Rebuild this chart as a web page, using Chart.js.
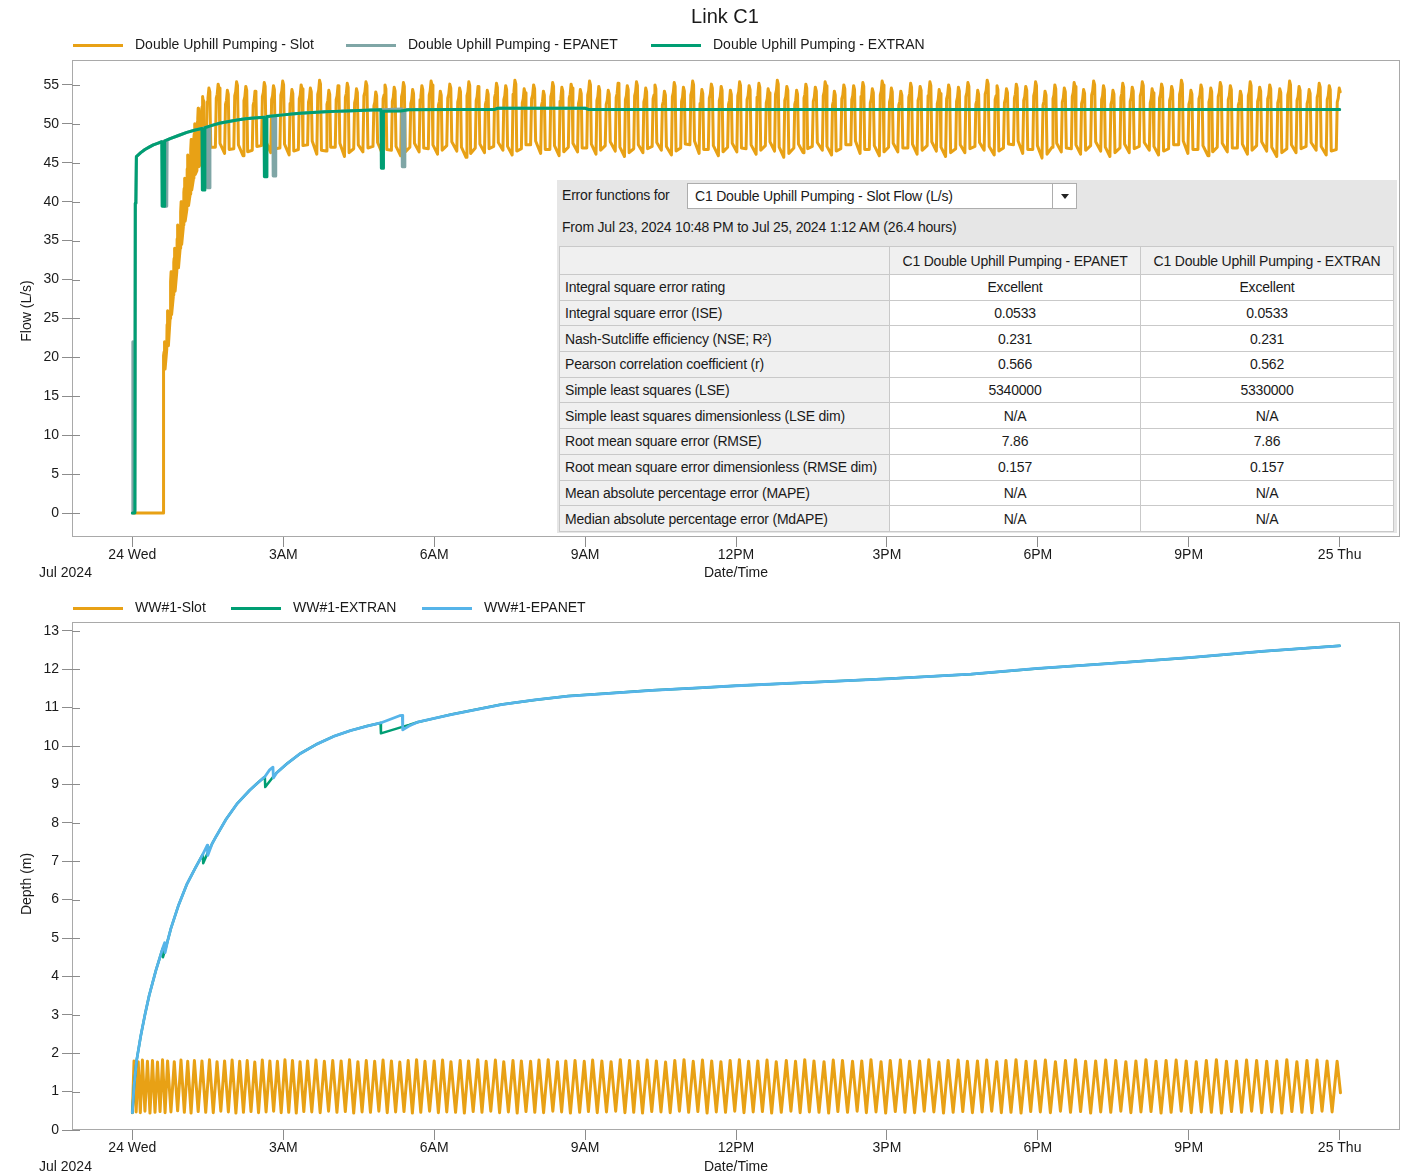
<!DOCTYPE html>
<html>
<head>
<meta charset="utf-8">
<title>Link C1</title>
<script src="https://cdn.jsdelivr.net/npm/chart.js@4.4.1/dist/chart.umd.min.js"></script>
<style>
  html, body { margin: 0; padding: 0; background: #fff; }
  body { width: 1402px; height: 1175px; position: relative; overflow: hidden;
         font-family: "Liberation Sans", Arial, sans-serif; }
  canvas { position: absolute; left: 0; }
  #flowCanvas { top: 0; }
  #depthCanvas { top: 590px; }
  #errPanel { position: absolute; left: 557px; top: 180px; width: 840px; height: 353px;
              background: #e6e6e6; font-size: 14px; letter-spacing: -0.2px; color: #1a1a1a; }
  #errPanel .lbl { position: absolute; line-height: 18px; white-space: nowrap; }
  #combo { position: absolute; left: 130px; top: 3px; width: 388px; height: 24px;
           background: #fff; border: 1px solid #adadad; }
  #combo span { position: absolute; left: 7px; top: 0; line-height: 24px; white-space: nowrap; }
  #comboBtn { position: absolute; right: 0; top: 0; width: 23px; height: 24px; border-left: 1px solid #adadad; }
  #comboBtn i { position: absolute; left: 8px; top: 10px; width: 0; height: 0;
                border-left: 4px solid transparent; border-right: 4px solid transparent; border-top: 5px solid #222; }
  #errTable { position: absolute; left: 2px; top: 66px; border-collapse: collapse; table-layout: fixed; width: 834px; }
  #errTable td { border: 1px solid #c9c9c9; padding: 0; height: 24.7px; text-align: center; white-space: nowrap;
                 background: #fff; }
  #errTable tr.head td { height: 27px; background: #f0f0f0; }
  #errTable td.name { text-align: left; padding-left: 5px; background: #f0f0f0; }
</style>
</head>
<body>
<canvas id="flowCanvas" width="1402" height="590"></canvas>
<canvas id="depthCanvas" width="1402" height="585"></canvas>

<div id="errPanel">
  <div class="lbl" style="left:5px;top:6px">Error functions for</div>
  <div id="combo"><span>C1 Double Uphill Pumping - Slot Flow (L/s)</span><div id="comboBtn"><i></i></div></div>
  <div class="lbl" style="left:5px;top:38px">From Jul 23, 2024 10:48 PM to Jul 25, 2024 1:12 AM (26.4 hours)</div>
  <table id="errTable">
    <colgroup><col style="width:330px"><col style="width:251px"><col style="width:253px"></colgroup>
    <tbody id="errBody"></tbody>
  </table>
</div>

<script>
// ---------- time axis (minutes from 24 Jul 00:00) ----------
const xTickMinutes = [0, 180, 360, 540, 720, 900, 1080, 1260, 1440];
const xTickLabels = ['24 Wed', '3AM', '6AM', '9AM', '12PM', '3PM', '6PM', '9PM', '25 Thu'];
const flowTicks = [0, 5, 10, 15, 20, 25, 30, 35, 40, 45, 50, 55];
const depthTicks = [0, 1, 2, 3, 4, 5, 6, 7, 8, 9, 10, 11, 12, 13];

// ---------- link C1 flow (L/s) ----------
// EXTRAN flow, [minute, L/s]
const extranFlow = [
  [0,0],[3,0],[3.5,39.8],[4.2,40],[4.8,45.8],[10,46.3],[15,46.7],[20,47.0],[25,47.3],[30,47.5],[35,47.7],
  [35.5,39.4],[38,39.4],[38.5,47.8],[45,48.1],[55,48.5],[65,48.9],[75,49.2],[83,49.4],
  [83.5,41.5],[86,41.5],[86.5,49.5],[95,49.8],[105,50.1],[115,50.3],[125,50.5],[135,50.65],[145,50.75],[157,50.85],
  [157.5,43.2],[160,43.2],[160.5,50.95],[170,51.05],[180,51.15],[190,51.25],[200,51.35],[210,51.42],[220,51.48],
  [230,51.54],[241,51.6],[255,51.66],[270,51.72],[285,51.77],[296.5,51.8],
  [297,44.3],[299,44.3],[299.5,51.6],[320,51.65],[330,51.8],[380,51.85],[432,51.85],[436,52.0],[540,52.0],
  [544,51.85],[1440,51.85]
];
// EPANET flow, [minute, L/s]
const epanetFlow = [
  [0,0],[0.6,22],[1.2,0.3],[3,0.3],[3.5,39.8],[4.2,40],[4.8,45.8],[10,46.3],[15,46.7],[20,47.0],[25,47.3],[30,47.5],
  [35,47.7],[38,47.75],[38.5,39.4],[41,39.4],[41.5,47.9],[45,48.1],[55,48.5],[65,48.9],[75,49.2],[83,49.4],
  [89,49.6],[89.5,41.8],[92,41.8],[92.5,49.7],[95,49.8],[105,50.1],[115,50.3],[125,50.5],[135,50.65],[145,50.75],
  [157,50.85],[167.5,51.0],[168,43.3],[170.5,43.3],[171,51.07],[180,51.15],[190,51.25],[200,51.35],[210,51.42],
  [220,51.48],[230,51.54],[241,51.6],[255,51.66],[270,51.72],[285,51.77],[296.5,51.8],[321.5,51.9],
  [322,44.5],[324.5,44.5],[325,51.85],[380,51.85],[432,51.85],[436,52.0],[540,52.0],[544,51.85],[1440,51.85]
];
// Slot flow: pump cycles (start minute, trough and crest in L/s)
const slotFlowStart = [
  37, 41, 45, 49, 53, 57, 61, 65, 69, 73, 77, 82,
  88, 99, 110, 121, 132, 143, 154, 165, 176, 187,
  198, 209, 220, 231, 242, 253, 264, 275, 287, 298,
  309, 320, 331, 342, 353, 364, 375, 387, 398, 409,
  420, 431, 442, 453, 464, 475, 487, 498, 509, 520,
  531, 542, 553, 564, 576, 587, 598, 609, 620, 631,
  643, 654, 665, 676, 687, 699, 710, 721, 732, 744,
  755, 766, 777, 789, 800, 811, 823, 834, 845, 857,
  868, 879, 891, 902, 913, 925, 936, 948, 959, 970,
  982, 993, 1005, 1016, 1028, 1039, 1051, 1062, 1074, 1085,
  1097, 1108, 1120, 1131, 1143, 1155, 1166, 1178, 1189, 1201,
  1213, 1224, 1236, 1248, 1259, 1271, 1283, 1294, 1306, 1318,
  1330, 1341, 1353, 1365, 1377, 1388, 1400, 1412, 1424, 1436
];
const slotFlowLow = [
  18, 21, 25, 28, 31, 34, 37, 39, 41, 43, 44, 45,
  46.5, 47.0, 46.2, 46.8, 45.9, 46.6, 47.2, 46.3, 46.9, 46.0,
  46.7, 47.3, 46.1, 46.5, 47.0, 45.8, 46.8, 46.4, 47.1, 46.2,
  46.6, 45.9, 47.0, 46.4, 46.8, 46.1, 47.2, 46.5, 45.7, 46.9,
  46.3, 47.1, 46.6, 46.0, 46.8, 47.3, 46.2, 46.7, 45.9, 47.0,
  46.4, 46.9, 46.1, 47.2, 46.5, 45.8, 46.8, 46.3, 47.1, 46.6,
  46.0, 46.9, 47.3, 46.2, 46.7, 45.9, 47.0, 46.4, 46.8, 46.1,
  47.2, 46.5, 45.7, 46.9, 46.3, 47.1, 46.6, 46.0, 46.8, 47.3,
  46.2, 46.7, 45.9, 47.0, 46.4, 46.9, 46.1, 47.2, 46.5, 45.8,
  46.8, 46.3, 47.1, 46.6, 46.0, 46.9, 47.3, 46.2, 46.7, 45.6,
  47.0, 46.4, 46.8, 46.1, 47.2, 46.5, 45.8, 46.9, 46.3, 47.1,
  46.6, 46.0, 46.8, 47.3, 46.2, 46.7, 45.9, 47.0, 46.4, 46.9,
  46.1, 47.2, 46.5, 45.8, 46.8, 46.3, 47.1, 46.6, 46.0, 46.7
];
const slotFlowHigh = [
  22, 26, 31, 34, 37, 40, 43, 46, 48, 50, 52, 53.5,
  54.6, 55.1, 54.3, 55.4, 54.8, 54.2, 55.3, 54.9, 55.5, 54.4,
  55.0, 54.6, 55.6, 54.3, 54.9, 55.2, 54.5, 55.4, 54.1, 55.0,
  54.7, 55.3, 54.4, 54.9, 55.5, 54.2, 55.1, 54.6, 55.4, 54.8,
  54.3, 55.2, 54.9, 55.6, 54.5, 55.0, 54.2, 55.3, 54.7, 55.1,
  54.4, 55.5, 54.8, 54.3, 55.2, 54.9, 55.4, 54.6, 55.0, 54.2,
  55.3, 54.7, 55.5, 54.4, 55.1, 54.8, 54.3, 55.4, 54.9, 55.2,
  54.5, 55.6, 54.8, 54.3, 55.1, 54.7, 55.4, 54.2, 55.0, 54.9,
  55.3, 54.5, 55.5, 54.6, 54.2, 55.2, 54.8, 55.4, 54.4, 55.0,
  54.7, 55.3, 54.3, 55.6, 54.9, 54.5, 55.1, 54.8, 55.4, 54.2,
  55.0, 54.6, 55.3, 54.4, 55.5, 54.9, 54.3, 55.2, 54.7, 55.4,
  54.5, 55.1, 54.8, 55.6, 54.3, 55.0, 54.6, 55.3, 54.9, 54.2,
  55.4, 54.7, 55.0, 54.5, 55.5, 54.8, 54.4, 55.2, 54.9, 54.6
];
const slotFlowIdle = [[2, 0], [36.9, 0]];
const slotFlowEndMin = 1441;

// ---------- WW#1 depth (m) ----------
const extranDepth = [
  [0,0.45],[2,1.15],[5,1.8],[10,2.45],[15,3.0],[20,3.5],[28,4.15],[36,4.72],[36.5,4.5],[39,4.68],[42,4.92],
  [46,5.25],[55,5.85],[65,6.4],[75,6.82],[84,7.18],[84.5,6.95],[89.5,7.2],[95,7.45],[100,7.65],[112,8.1],
  [125,8.5],[140,8.85],[150,9.05],[158,9.2],[158.5,8.93],[168,9.2],[172,9.3],[185,9.55],[200,9.8],[220,10.05],
  [240,10.25],[260,10.4],[280,10.52],[296,10.6],[296.5,10.33],[322,10.5],[330,10.55],[340,10.62],[360,10.72],
  [380,10.82],[410,10.95],[440,11.08],[480,11.2],[520,11.3],[560,11.36],[620,11.45],[680,11.52],[720,11.57],
  [800,11.65],[900,11.75],[1000,11.87],[1080,12.02],[1160,12.14],[1260,12.3],[1350,12.47],[1440,12.61]
];
const epanetDepth = [
  [0,0.45],[2,1.15],[5,1.8],[10,2.45],[15,3.0],[20,3.5],[28,4.15],[36,4.72],[38.5,4.88],[39,4.62],[42,4.92],
  [46,5.25],[55,5.85],[65,6.4],[75,6.82],[84,7.18],[89.4,7.42],[89.9,7.15],[95,7.45],[100,7.65],[112,8.1],
  [125,8.5],[140,8.85],[150,9.05],[158,9.2],[163.7,9.38],[167.7,9.45],[168.2,9.17],[172,9.3],[185,9.55],
  [200,9.8],[220,10.05],[240,10.25],[260,10.4],[280,10.52],[296,10.6],[318.7,10.79],[322,10.8],[322.5,10.42],
  [330,10.52],[340,10.62],[360,10.72],[380,10.82],[410,10.95],[440,11.08],[480,11.2],[520,11.3],[560,11.36],
  [620,11.45],[680,11.52],[720,11.57],[800,11.65],[900,11.75],[1000,11.87],[1080,12.02],[1160,12.14],
  [1260,12.3],[1350,12.47],[1440,12.61]
];
// Slot depth: crest minutes, crest and following trough (m)
const slotDepthPeakT = [
  2, 7, 12, 18, 24, 30, 36, 42,
  50, 58, 66, 74, 83, 92, 101, 110, 119, 128, 137, 146, 155, 164, 173, 182, 191, 200, 209, 219, 229, 239,
  249, 259, 269, 279, 289, 299,
  309, 319, 329, 339, 349, 360, 370, 380, 391, 401, 412, 422, 433, 443, 454, 464, 475, 485, 496, 507,
  517, 528, 539, 549, 560, 571, 582, 593, 603, 614, 625, 636, 647, 658, 669, 680, 691, 702, 713, 724,
  735, 746, 757, 768, 780, 791, 802, 813, 825, 836, 847, 859, 870, 881, 893, 904, 916, 927, 939, 950,
  962, 973, 985, 996, 1008, 1019, 1031, 1042, 1054, 1066, 1077, 1089,
  1101, 1113, 1125, 1137, 1149, 1161, 1173, 1185, 1197, 1209, 1221, 1233, 1245, 1257, 1269, 1281,
  1293, 1305, 1317, 1329, 1341, 1353, 1365, 1377, 1389, 1401, 1413, 1425, 1437
];
const slotDepthHigh = [
  1.80, 1.78, 1.82, 1.79, 1.81, 1.77, 1.83, 1.80, 1.78, 1.82,
  1.79, 1.81, 1.80, 1.83, 1.78, 1.80, 1.82, 1.79, 1.81, 1.77,
  1.82, 1.80, 1.79, 1.83, 1.81, 1.78, 1.80, 1.82, 1.79, 1.81,
  1.80, 1.83, 1.78, 1.81, 1.79, 1.82, 1.80, 1.77, 1.81, 1.83,
  1.79, 1.80, 1.82, 1.78, 1.81, 1.80, 1.83, 1.79, 1.82, 1.78,
  1.81, 1.80, 1.79, 1.82, 1.83, 1.78, 1.80, 1.81, 1.79, 1.82,
  1.80, 1.78, 1.83, 1.81, 1.79, 1.82, 1.80, 1.77, 1.81, 1.83,
  1.79, 1.82, 1.80, 1.78, 1.81, 1.83, 1.79, 1.80, 1.82, 1.78,
  1.81, 1.79, 1.83, 1.80, 1.78, 1.82, 1.81, 1.79, 1.80, 1.83,
  1.78, 1.81, 1.82, 1.79, 1.80, 1.83, 1.77, 1.81, 1.82, 1.79,
  1.80, 1.82, 1.78, 1.81, 1.83, 1.79, 1.80, 1.82, 1.78, 1.81,
  1.83, 1.79, 1.80, 1.82, 1.81, 1.78, 1.80, 1.83, 1.79, 1.81,
  1.82, 1.80, 1.78, 1.81, 1.83, 1.79, 1.80, 1.82, 1.81, 1.79,
  1.80, 1.83, 1.78, 1.81, 1.82, 1.80, 1.79
];
const slotDepthLow = [
  0.47, 0.45, 0.49, 0.44, 0.46, 0.48, 0.45, 0.47, 0.50, 0.46,
  0.44, 0.48, 0.46, 0.45, 0.49, 0.47, 0.44, 0.46, 0.48, 0.45,
  0.47, 0.49, 0.45, 0.46, 0.44, 0.48, 0.47, 0.45, 0.49, 0.46,
  0.48, 0.44, 0.47, 0.46, 0.49, 0.45, 0.47, 0.48, 0.44, 0.46,
  0.49, 0.45, 0.47, 0.46, 0.44, 0.48, 0.46, 0.49, 0.45, 0.47,
  0.44, 0.48, 0.46, 0.45, 0.49, 0.47, 0.44, 0.46, 0.48, 0.45,
  0.47, 0.49, 0.45, 0.46, 0.44, 0.48, 0.47, 0.45, 0.49, 0.46,
  0.48, 0.44, 0.47, 0.46, 0.49, 0.45, 0.47, 0.48, 0.44, 0.46,
  0.49, 0.45, 0.47, 0.46, 0.44, 0.48, 0.46, 0.49, 0.45, 0.47,
  0.44, 0.48, 0.46, 0.45, 0.49, 0.47, 0.44, 0.46, 0.48, 0.45,
  0.47, 0.49, 0.45, 0.46, 0.44, 0.48, 0.47, 0.45, 0.49, 0.46,
  0.48, 0.44, 0.47, 0.46, 0.49, 0.45, 0.47, 0.48, 0.44, 0.46,
  0.49, 0.45, 0.47, 0.46, 0.44, 0.48, 0.46, 0.49, 0.45, 0.47,
  0.44, 0.48, 0.46, 0.45, 0.49, 0.47
];
const slotDepthStart = [0, 0.45];
const slotDepthEnd = [1441, 0.97];

// ---------- error function table ----------
const errorMetrics = [
  'Integral square error rating', 'Integral square error (ISE)', 'Nash-Sutcliffe efficiency (NSE; R²)',
  'Pearson correlation coefficient (r)', 'Simple least squares (LSE)', 'Simple least squares dimensionless (LSE dim)',
  'Root mean square error (RMSE)', 'Root mean square error dimensionless (RMSE dim)',
  'Mean absolute percentage error (MAPE)', 'Median absolute percentage error (MdAPE)'
];
const epanetScores = ['Excellent', '0.0533', '0.231', '0.566', '5340000', 'N/A', '7.86', '0.157', 'N/A', 'N/A'];
const extranScores = ['Excellent', '0.0533', '0.231', '0.562', '5330000', 'N/A', '7.86', '0.157', 'N/A', 'N/A'];
const compareHeads = ['', 'C1 Double Uphill Pumping - EPANET', 'C1 Double Uphill Pumping - EXTRAN'];

(function buildTable() {
  const body = document.getElementById('errBody');
  const head = document.createElement('tr');
  head.className = 'head';
  compareHeads.forEach((h, i) => {
    const td = document.createElement('td');
    td.textContent = h;
    if (i === 0) td.className = 'name';
    head.appendChild(td);
  });
  body.appendChild(head);
  errorMetrics.forEach((m, i) => {
    const tr = document.createElement('tr');
    [m, epanetScores[i], extranScores[i]].forEach((v, j) => {
      const td = document.createElement('td');
      td.textContent = v;
      if (j === 0) td.className = 'name';
      tr.appendChild(td);
    });
    body.appendChild(tr);
  });
})();

// ---------- series assembly ----------
const pairsToXY = arr => arr.map(([x, y]) => ({ x, y }));

function slotFlowPoints() {
  const pts = pairsToXY(slotFlowIdle);
  for (let i = 0; i < slotFlowStart.length; i++) {
    const s = slotFlowStart[i];
    const p = (i + 1 < slotFlowStart.length ? slotFlowStart[i + 1] : s + 11.7) - s;
    const lo = slotFlowLow[i], hi = slotFlowHigh[i];
    // one pump cycle: quick rise with a small hook at the crest, quick fall, idle trough
    const shape = [[0, lo], [0.1, hi - 1.8], [0.2, hi - 1.3], [0.3, hi], [0.4, hi - 0.5], [0.5, lo + 0.5]];
    shape.forEach(([f, v]) => {
      const t = s + f * p;
      if (t <= slotFlowEndMin) pts.push({ x: t, y: v });
    });
  }
  return pts;
}

function slotDepthPoints() {
  const pts = [{ x: slotDepthStart[0], y: slotDepthStart[1] }];
  for (let i = 0; i < slotDepthPeakT.length; i++) {
    pts.push({ x: slotDepthPeakT[i], y: slotDepthHigh[i] });
    if (i + 1 < slotDepthPeakT.length) {
      pts.push({ x: (slotDepthPeakT[i] + slotDepthPeakT[i + 1]) / 2, y: slotDepthLow[i] });
    }
  }
  pts.push({ x: slotDepthEnd[0], y: slotDepthEnd[1] });
  return pts;
}

// ---------- styling ----------
const FONT = '"Liberation Sans", Arial, sans-serif';
const ORANGE = '#E8A115';
const GREEN = '#009E73';
const GREY = '#7FA6A6';
const SKY = '#56B4E9';
const TEXT = '#1a1a1a';
const TICK = '#8c8c8c';

function decorPlugin(cfg) {
  return {
    id: 'decor',
    afterDraw(chart) {
      const { ctx, chartArea: a } = chart;
      ctx.save();
      // plot frame
      ctx.strokeStyle = '#a9a9a9';
      ctx.lineWidth = 1;
      ctx.strokeRect(a.left + 0.5, a.top + 0.5, a.right - a.left - 1, a.bottom - a.top - 1);
      // inner part of the y tick marks
      const ys = chart.scales.y;
      ctx.strokeStyle = TICK;
      ys.ticks.forEach(t => {
        const py = Math.round(ys.getPixelForValue(t.value)) + 0.5;
        ctx.beginPath();
        ctx.moveTo(a.left, py);
        ctx.lineTo(a.left + 8, py);
        ctx.stroke();
      });
      // legend
      ctx.font = '14px ' + FONT;
      ctx.textBaseline = 'middle';
      ctx.textAlign = 'left';
      chart.data.datasets.forEach((ds, i) => {
        const x = cfg.legendX[i];
        ctx.strokeStyle = ds.borderColor;
        ctx.lineWidth = 3;
        ctx.beginPath();
        ctx.moveTo(x, cfg.legendY + 0.5);
        ctx.lineTo(x + 50, cfg.legendY + 0.5);
        ctx.stroke();
        ctx.fillStyle = TEXT;
        ctx.fillText(ds.label, x + 62, cfg.legendY);
      });
      // axis captions
      ctx.fillStyle = TEXT;
      ctx.textAlign = 'center';
      ctx.fillText('Date/Time', (a.left + a.right) / 2, cfg.captionY);
      ctx.textAlign = 'left';
      ctx.fillText('Jul 2024', 39, cfg.captionY);
      ctx.save();
      ctx.translate(27, cfg.yTitleY);
      ctx.rotate(-Math.PI / 2);
      ctx.textAlign = 'center';
      ctx.fillText(cfg.yTitle, 0, 0);
      ctx.restore();
      if (cfg.title) {
        ctx.font = '20px ' + FONT;
        ctx.textAlign = 'center';
        ctx.fillText(cfg.title, 725, 17);
      }
      ctx.restore();
    }
  };
}

function axes(yMin, yMax, yTicks, xHeight) {
  const tickFont = { family: FONT, size: 14 };
  return {
    x: {
      type: 'linear', min: -72, max: 1512,
      afterBuildTicks: s => { s.ticks = xTickMinutes.map(v => ({ value: v })); },
      afterFit: s => { s.height = xHeight; },
      grid: { drawOnChartArea: false, drawTicks: true, tickLength: 10, color: TICK },
      border: { display: false },
      ticks: { autoSkip: false, maxRotation: 0, padding: 0, color: TEXT, font: tickFont,
               callback: (v, i) => xTickLabels[i] }
    },
    y: {
      type: 'linear', min: yMin, max: yMax,
      afterBuildTicks: s => { s.ticks = yTicks.map(v => ({ value: v })); },
      afterFit: s => { s.width = 72; },
      grid: { drawOnChartArea: false, drawTicks: true, tickLength: 10, color: TICK },
      border: { display: false },
      ticks: { padding: 3, color: TEXT, font: tickFont }
    }
  };
}

const common = {
  responsive: false,
  devicePixelRatio: 1,
  animation: false,
  parsing: false,
  normalized: true,
  events: [],
  elements: { point: { radius: 0 }, line: { tension: 0, borderJoinStyle: 'round', borderCapStyle: 'round' } },
  plugins: { legend: { display: false }, title: { display: false }, tooltip: { enabled: false } }
};

// ---------- Link C1 flow ----------
new Chart(document.getElementById('flowCanvas'), {
  type: 'line',
  data: {
    datasets: [
      { label: 'Double Uphill Pumping - Slot', data: slotFlowPoints(), borderColor: ORANGE, borderWidth: 3, order: 3 },
      { label: 'Double Uphill Pumping - EPANET', data: pairsToXY(epanetFlow), borderColor: GREY, borderWidth: 3, order: 2 },
      { label: 'Double Uphill Pumping - EXTRAN', data: pairsToXY(extranFlow), borderColor: GREEN, borderWidth: 3, order: 1 }
    ]
  },
  options: Object.assign({}, common, {
    layout: { padding: { top: 60, right: 2, bottom: 0, left: 0 } },
    scales: axes(-3.08, 58.2, flowTicks, 53)
  }),
  plugins: [decorPlugin({ legendX: [73, 346, 651], legendY: 45, captionY: 573, yTitle: 'Flow (L/s)', yTitleY: 311, title: 'Link C1' })]
});

// ---------- WW#1 depth ----------
new Chart(document.getElementById('depthCanvas'), {
  type: 'line',
  data: {
    datasets: [
      { label: 'WW#1-Slot', data: slotDepthPoints(), borderColor: ORANGE, borderWidth: 3, order: 3 },
      { label: 'WW#1-EXTRAN', data: pairsToXY(extranDepth), borderColor: GREEN, borderWidth: 2.5, order: 2 },
      { label: 'WW#1-EPANET', data: pairsToXY(epanetDepth), borderColor: SKY, borderWidth: 2.8, order: 1 }
    ]
  },
  options: Object.assign({}, common, {
    layout: { padding: { top: 32, right: 2, bottom: 0, left: 0 } },
    scales: axes(0, 13.23, depthTicks, 45)
  }),
  plugins: [decorPlugin({ legendX: [73, 231, 422], legendY: 18, captionY: 577, yTitle: 'Depth (m)', yTitleY: 294 })]
});
</script>
</body>
</html>
